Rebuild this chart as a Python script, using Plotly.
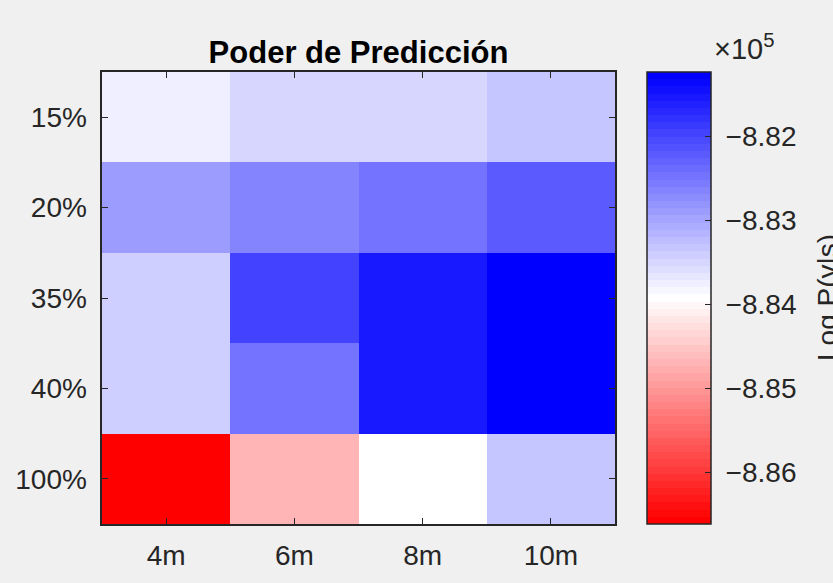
import plotly.graph_objects as go

# Horizontal categories (model horizon) and vertical categories (sample share)
horizons = ["4m", "6m", "8m", "10m"]
shares = ["15%", "20%", "35%", "40%", "100%"]

# Log-likelihood log P(y|s), one list per share row
row_15 = [-883736, -883480, -883480, -883313]
row_20 = [-882901, -882604, -882478, -882200]
row_35 = [-883386, -881931, -881500, -881230]
row_40 = [-883386, -882478, -881500, -881230]
row_100 = [-886620, -884680, -883925, -883313]

cbar_tickvals = [-882000, -883000, -884000, -885000, -886000]
cbar_ticktext = [" \u22128.82", " \u22128.83", " \u22128.84", " \u22128.85", " \u22128.86"]

z = [row_15, row_20, row_35, row_40, row_100]
zmin = min(min(r) for r in z)
zmax = max(max(r) for r in z)

# Stepped red-white-blue map (odd number of levels so the middle one is pure white)
n = 63
colorscale = []
for i in range(n):
    f = i / (n - 1)
    if f < 0.5:
        t = f / 0.5
        c = (255, round(255 * t), round(255 * t))
    else:
        t = (1 - f) / 0.5
        c = (round(255 * t), round(255 * t), 255)
    col = f"rgb({c[0]},{c[1]},{c[2]})"
    colorscale.append([i / n, col])
    colorscale.append([(i + 1) / n, col])

FONT = "Arial, 'Liberation Sans', Helvetica, sans-serif"
AX = "#262626"

fig = go.Figure(
    go.Heatmap(
        x=horizons,
        y=shares,
        z=z,
        zmin=zmin,
        zmax=zmax,
        colorscale=colorscale,
        xgap=0,
        ygap=0,
        colorbar=dict(
            xref="container",
            x=647 / 833,
            xanchor="left",
            y=0.5,
            yanchor="middle",
            len=1,
            lenmode="fraction",
            thickness=64,
            xpad=0,
            ypad=0,
            outlinecolor=AX,
            outlinewidth=1.5,
            ticks="inside",
            ticklen=6,
            tickcolor=AX,
            tickvals=cbar_tickvals,
            ticktext=cbar_ticktext,
            tickfont=dict(family=FONT, size=28, color=AX),
        ),
    )
)

fig.update_layout(
    width=833,
    height=583,
    margin=dict(l=102, r=218, t=72, b=59),
    paper_bgcolor="#f0f0f0",
    plot_bgcolor="#f0f0f0",
    font=dict(family=FONT, color=AX),
    title=dict(
        text="<b>Poder de Predicción</b>",
        x=0.5,
        xref="paper",
        xanchor="center",
        y=1 - 52 / 583,
        yanchor="middle",
        font=dict(family=FONT, size=31, color="black"),
    ),
    xaxis=dict(
        showline=True,
        linecolor=AX,
        linewidth=1.5,
        mirror="ticks",
        ticks="inside",
        ticklen=6,
        tickcolor=AX,
        tickfont=dict(size=28, color=AX),
        ticklabelstandoff=6,
        showgrid=False,
        zeroline=False,
    ),
    yaxis=dict(
        autorange="reversed",
        showline=True,
        linecolor=AX,
        linewidth=1.5,
        mirror="ticks",
        ticks="inside",
        ticklen=6,
        tickcolor=AX,
        tickfont=dict(size=28, color=AX),
        ticksuffix=" ",
        showgrid=False,
        zeroline=False,
    ),
    annotations=[
        dict(
            text="\u00d710<sup>5</sup>",
            xref="paper",
            yref="paper",
            x=(712 - 102) / 513,
            y=(524 - 67) / 452,
            xanchor="left",
            yanchor="bottom",
            showarrow=False,
            font=dict(family=FONT, size=29, color=AX),
        ),
        dict(
            text="Log P(y|s)",
            xref="paper",
            yref="paper",
            x=(827 - 102) / 513,
            y=0.5,
            xanchor="center",
            yanchor="middle",
            textangle=-90,
            showarrow=False,
            font=dict(family=FONT, size=28, color=AX),
        ),
    ],
)

fig.write_html("out.html")
